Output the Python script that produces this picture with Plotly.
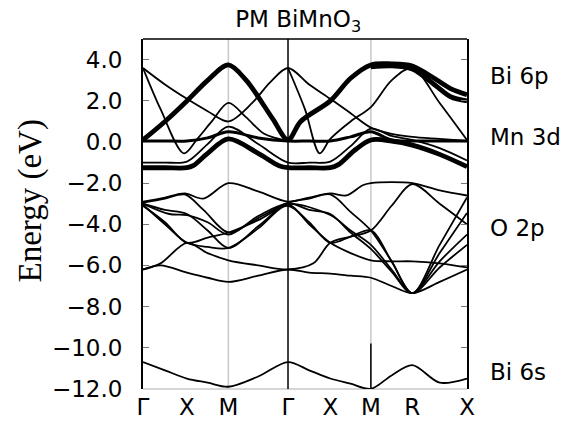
import numpy as np
import plotly.graph_objects as go

# ---- axis data ----
kpath_labels = ["Γ", "X", "M", "Γ", "X", "M", "R", "X"]
kpath_pos = [0.0, 0.53, 1.03, 1.75, 2.26, 2.75, 3.25, 3.91]
energy_ticks = [4, 2, 0, -2, -4, -6, -8, -10, -12]
energy_tick_text = ["4.0", "2.0", "0.0", "−2.0", "−4.0", "−6.0", "−8.0", "−10.0", "−12.0"]

# ---- bands: (s, E) with s = index along path (0=Γ,1=X,2=M,3=Γ,4=X,5=M,6=R,7=X) ----
band_mn_thick = [(0, -1.25), (0.5, -1.25), (1, -1.25), (1.15, -1.15), (1.5, -0.55), (2, 0.15), (2.5, -0.55),
                 (2.85, -1.15), (3, -1.25), (3.5, -1.25), (4, -1.25), (4.2, -1.1), (4.6, -0.4), (5, 0.1),
                 (5.5, 0.05), (6, -0.15), (6.5, -0.6), (7, -1.2)]
band_mn_flat = [(0, 0.05), (0.5, 0.05), (1, 0.05), (1.5, 0.2), (2, 0.5), (2.5, 0.2), (3, 0.05), (3.5, 0.05),
                (4, 0.05), (4.5, 0.25), (5, 0.5), (5.5, 0.1), (6, 0.05), (6.5, 0.05), (7, 0.05)]
band_mn_thin = [(0, -1.0), (0.5, -1.0), (1, -0.95), (1.5, -0.1), (2, 0.75), (2.5, -0.1), (3, -1.0), (3.5, -1.0),
                (4, -0.95), (4.5, -0.2), (5, 0.65), (5.5, 0.3), (6, 0.1), (6.5, -0.3), (7, -0.9)]
band_bi6p_a = [(0, 0.1), (0.5, 1.0), (1, 2.0), (1.5, 3.0), (2, 3.75), (2.3, 3.0), (2.5, 2.2), (2.75, 1.1),
               (3, 0.1), (3.3, 1.0), (4, 2.0), (4.5, 3.1), (5, 3.75), (5.5, 3.8), (6, 3.7), (6.4, 3.1),
               (6.7, 2.6), (7, 2.3)]
band_bi6p_b = [(5, 3.65), (5.5, 3.7), (6, 3.55), (6.4, 2.8), (6.7, 2.2), (7, 2.0)]
band_bi6p_c = [(0, 3.6), (0.5, 2.8), (1, 2.1), (1.5, 1.5), (2, 1.0), (2.4, 1.9), (2.7, 2.9), (3, 3.6),
               (3.5, 2.8), (4, 2.1), (4.5, 1.4), (5, 0.7), (5.5, 0.4), (6, 0.25), (6.5, 0.15), (7, 0.05)]
band_bi6p_d = [(0, 3.6), (0.4, 1.6), (0.93, -0.55), (1.25, 0.15), (1.6, 1.0), (2, 1.9), (2.3, 1.2),
               (2.6, 0.4), (3, 0.05)]
band_bi6p_e = [(3, 3.6), (3.4, 1.6), (3.75, -0.55), (4, 0.15), (4.5, 1.0), (5, 1.7), (5.5, 3.0), (6, 3.6),
               (6.5, 1.9), (7, 0.1)]

band_o_1 = [(0, -2.9), (0.5, -2.7), (0.95, -2.5), (1.4, -2.75), (2, -2.0), (2.5, -2.4), (3, -2.9),
            (3.5, -2.7), (4, -2.5), (4.4, -2.6), (4.8, -2.1), (5, -2.0), (5.5, -1.95), (6, -2.0),
            (6.5, -2.35), (7, -2.6)]
band_o_2 = [(0, -2.95), (0.5, -2.75), (0.95, -2.55), (1.4, -3.3), (2, -4.4), (2.5, -3.7), (3, -2.95),
            (3.5, -2.75), (4, -2.55), (4.5, -3.4), (5, -4.3), (5.5, -5.8), (6, -7.35), (6.5, -5.0), (7, -2.7)]
band_o_3 = [(0, -3.0), (0.5, -3.3), (1, -3.5), (1.5, -4.3), (2, -5.15), (2.5, -4.1), (3, -3.0),
            (3.5, -3.3), (4, -3.5), (4.5, -4.4), (5, -5.2), (5.5, -6.3), (6, -7.35), (6.5, -5.4), (7, -3.45)]
band_o_4 = [(0, -3.1), (0.5, -3.9), (1, -4.9), (1.5, -4.65), (2, -4.4), (2.5, -3.8), (3, -3.1),
            (3.5, -3.9), (4, -4.9), (4.5, -4.6), (5, -4.3), (5.5, -3.1), (6, -2.05), (6.5, -3.0), (7, -4.0)]
band_o_5 = [(0, -3.0), (0.6, -3.5), (1, -3.55), (1.5, -3.9), (2, -4.5), (2.5, -3.6), (3, -3.0),
            (4, -3.55), (4.5, -4.3), (5, -5.0), (5.5, -6.2), (6, -7.35), (6.5, -5.8), (7, -4.5)]
band_o_6 = [(0, -6.2), (0.4, -5.9), (1, -4.9), (1.5, -5.4), (2, -5.75), (2.5, -6.0), (3, -6.2),
            (3.6, -5.9), (4, -4.9), (4.5, -4.6), (5, -4.3), (5.5, -5.8), (6, -7.35), (6.5, -6.1), (7, -5.0)]
band_o_7 = [(0, -3.05), (0.5, -4.0), (1, -4.9), (1.5, -5.1), (2, -5.15), (2.5, -4.2), (3, -3.05),
            (3.5, -4.0), (4, -4.9), (4.5, -5.4), (5, -5.75), (5.5, -5.8), (6, -5.8), (6.5, -5.9), (7, -6.1)]
band_o_8 = [(0, -6.2), (0.4, -6.0), (1, -6.35), (1.5, -6.6), (2, -6.8), (2.5, -6.5), (3, -6.2),
            (3.5, -6.35), (4, -6.4), (4.5, -6.5), (5, -6.6), (5.5, -7.0), (6, -7.35), (6.5, -6.8), (7, -6.2)]
band_bi6s = [(0, -10.7), (0.5, -11.1), (1, -11.5), (1.5, -11.7), (2, -11.9), (2.5, -11.4), (3, -10.7),
             (3.5, -11.1), (4, -11.5), (4.5, -11.75), (5, -12.0), (5.5, -11.35), (6, -10.85),
             (6.5, -11.7), (7, -11.5)]

thick_bands = [band_mn_thick, band_bi6p_a, band_bi6p_b]
medium_bands = [band_mn_flat]
thin_bands = [band_mn_thin, band_bi6p_c, band_bi6p_d, band_bi6p_e,
              band_o_1, band_o_2, band_o_3, band_o_4, band_o_5, band_o_6, band_o_7, band_o_8, band_bi6s]

E_MIN, E_MAX = -12.01, 5.01
X_MAX = kpath_pos[-1]

fig = go.Figure()


def add_band(pts, width):
    s = np.array([p[0] for p in pts], dtype=float)
    e = np.array([p[1] for p in pts], dtype=float)
    k = np.interp(s, np.arange(len(kpath_pos)), kpath_pos)
    fig.add_trace(go.Scatter(x=k, y=e, mode="lines",
                             line=dict(color="black", width=width, shape="spline", smoothing=0.9),
                             hoverinfo="skip", showlegend=False))


for b in thin_bands:
    add_band(b, 1.8)
for b in medium_bands:
    add_band(b, 3.0)
for b in thick_bands:
    add_band(b, 4.8)

shapes = [
    dict(type="line", xref="x", yref="paper", x0=kpath_pos[2], x1=kpath_pos[2], y0=0, y1=1,
         line=dict(color="#c8c8c8", width=1.5), layer="below"),
    dict(type="line", xref="x", yref="paper", x0=kpath_pos[5], x1=kpath_pos[5], y0=0, y1=1,
         line=dict(color="#c8c8c8", width=1.5), layer="below"),
    dict(type="line", xref="x", yref="paper", x0=kpath_pos[3], x1=kpath_pos[3], y0=0, y1=1,
         line=dict(color="black", width=1.5)),
    dict(type="line", xref="x", yref="y", x0=kpath_pos[5], x1=kpath_pos[5], y0=-9.8, y1=E_MIN,
         line=dict(color="black", width=1.5)),
    dict(type="line", xref="paper", yref="paper", x0=0, x1=1, y0=1, y1=1,
         line=dict(color="black", width=1.5)),
    dict(type="line", xref="paper", yref="paper", x0=0, x1=1, y0=0, y1=0,
         line=dict(color="#c8c8c8", width=1.5), layer="below"),
]

side_labels = ["Bi 6p", "Mn 3d", "O 2p", "Bi 6s"]
side_label_energy = [3.2, 0.25, -4.2, -11.2]
annotations = [dict(x=1.065, y=ey, xref="paper", yref="y", text=t, showarrow=False, xanchor="left",
                    yanchor="middle", font=dict(family="DejaVu Sans", size=23, color="black"))
               for t, ey in zip(side_labels, side_label_energy)]
annotations.append(dict(x=-0.346, y=-2.85, xref="paper", yref="y", text="Energy (eV)", showarrow=False,
                        textangle=-90, xanchor="center", yanchor="middle",
                        font=dict(family="Liberation Serif", size=33, color="black")))

fig.update_layout(
    width=569, height=421,
    margin=dict(l=143, r=102, t=39, b=32),
    paper_bgcolor="white", plot_bgcolor="white",
    title=dict(text="PM BiMnO<sub>3</sub>", x=0.524, xanchor="center", y=0.955, yanchor="middle",
               font=dict(family="DejaVu Sans", size=23, color="black")),
    xaxis=dict(range=[0, X_MAX], tickvals=kpath_pos, ticktext=kpath_labels, showgrid=False,
               zeroline=False, showline=False, ticks="", ticklabelstandoff=2, automargin=False,
               tickfont=dict(family="DejaVu Sans", size=23, color="black")),
    yaxis=dict(range=[E_MIN, E_MAX], tickvals=energy_ticks, ticktext=energy_tick_text, showgrid=False,
               zeroline=False, showline=True, linecolor="black", linewidth=2, mirror="ticks",
               ticks="inside", ticklen=6, tickcolor="#777", tickwidth=1.2, ticklabelstandoff=14,
               automargin=False,
               tickfont=dict(family="DejaVu Sans", size=23, color="black")),
    shapes=shapes,
    annotations=annotations,
)

fig.write_html("out.html")
